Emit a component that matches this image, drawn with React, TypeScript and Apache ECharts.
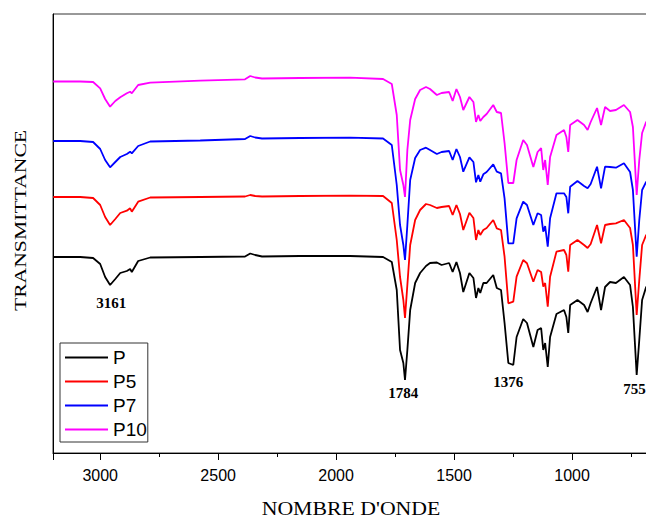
import React, { useEffect, useRef } from "react";
import * as echarts from "echarts";

// Wavenumbers (cm-1) shared by all four spectra
const wavenumbers = [
  3199, 3085, 3030, 3000, 2979, 2958, 2936, 2915, 2887, 2873,
  2866, 2839, 2788, 2576, 2386, 2364, 2343, 2314, 2153, 1941,
  1801, 1764, 1743, 1729, 1715, 1708, 1698, 1686, 1665, 1644,
  1619, 1602, 1573, 1553, 1521, 1506, 1490, 1475, 1461, 1435,
  1418, 1407, 1397, 1389, 1376, 1362, 1334, 1319, 1301, 1286,
  1270, 1249, 1235, 1207, 1191, 1164, 1146, 1131, 1122, 1114,
  1103, 1093, 1066, 1034, 1024, 1016, 1008, 977, 949, 934,
  921, 894, 877, 860, 839, 814, 780, 754, 742, 726,
  715, 703, 686, 606,
];

// Transmittance (arbitrary units, spectra stacked)
const pValues = [
  196, 196, 195, 189, 176, 168, 174, 180, 182, 184,
  181, 192, 195.5, 196, 196.5, 199.5, 198, 196.5, 197, 197,
  196, 191, 163, 103, 90, 73, 103, 143, 170, 180,
  187, 190, 190.5, 188, 190, 181, 191, 180, 161, 180,
  175, 155, 165, 160, 170, 170, 178, 165, 163, 130,
  90, 88, 116, 134, 130, 106, 123, 125, 103, 110,
  86, 116, 139, 143, 136, 120, 148, 153, 148, 141,
  150, 166, 143, 166, 171, 170, 176, 168, 146, 78,
  113, 153, 166, 173,
];
const p5Values = [
  256, 256, 255, 248, 236, 228, 234, 240, 242.3, 244.7,
  241.3, 251.3, 255.5, 256, 256.5, 258, 257, 256.5, 257, 257.3,
  257, 250, 213, 176, 153, 135, 168, 208, 233, 243,
  249, 248, 245, 246, 247, 238, 248, 239, 223, 240.3,
  235, 213, 223, 218, 223, 225, 233, 224.7, 223, 196.3,
  149.7, 151.3, 176.3, 193, 189.7, 171.3, 183, 181, 166.3, 170,
  146.3, 176.3, 201.3, 203, 198, 181.3, 208, 213, 208, 205,
  209, 228, 209.7, 228, 229, 229.7, 233, 225, 208, 138,
  173, 208, 218, 223,
];
const p7Values = [
  312, 312, 311, 304, 293, 285.7, 291, 296, 299, 301.3,
  299.7, 307, 311.5, 312.5, 314, 317, 315.5, 314.5, 315, 315.3,
  314.5, 308, 268, 228, 208, 193, 228, 273, 295, 303,
  305.3, 303, 299, 301, 302, 293, 304, 296, 281.3, 295.7,
  291, 270.7, 278, 271.3, 278.7, 281, 288.7, 281.3, 279.7, 254.7,
  209.7, 209.7, 234.7, 251.3, 248, 228, 239.7, 238, 221.3, 227,
  206.3, 234.7, 259.7, 259.7, 256, 239.7, 266.3, 272, 267, 264.7,
  269, 286.3, 264.7, 286.3, 286, 285.3, 289.7, 281, 263, 196.3,
  233, 263, 271, 278,
];
const p10Values = [
  371.5, 371.5, 371, 364.7, 354, 346.3, 352, 355.7, 359.7, 361.3,
  359.7, 368, 370.3, 372.3, 373.7, 377, 375.5, 374.5, 375, 375.3,
  374, 369, 338, 283, 268, 256, 303, 333, 354, 363,
  366, 364, 358, 360, 361, 352, 364, 356, 343, 356,
  351, 331, 338, 332, 336, 339, 348, 341, 340, 310,
  270, 270, 293, 313, 308, 286, 301, 305, 283, 293,
  268, 296, 318, 323, 316, 301, 328, 333, 328, 323,
  331, 345, 328, 346, 342, 343, 348, 341, 326, 258,
  293, 320, 331, 338,
];

const seriesNames = ["P", "P5", "P7", "P10"];
const seriesColors = ["#000000", "#ff0000", "#0000ff", "#ff00ff"];
const seriesValues = [pValues, p5Values, p7Values, p10Values];

// Peak annotations
const peakLabels = ["3161", "1784", "1376", "755"];
const peakWavenumbers = [2953, 1715, 1270, 735];
const peakLabelValues = [150, 60, 71, 64];

const xTitle = "NOMBRE D'ONDE";
const yTitle = "TRANSMITTANCE";

export default function App() {
  const ref = useRef<HTMLDivElement>(null);

  useEffect(() => {
    if (!ref.current) return;
    const chart = echarts.init(ref.current, null, { renderer: "svg" });

    const series: any[] = seriesNames.map((name, i) => ({
      name,
      type: "line",
      data: wavenumbers.map((w, j) => [w, seriesValues[i][j]]),
      showSymbol: false,
      symbol: "none",
      lineStyle: { color: seriesColors[i], width: 1.8 },
      itemStyle: { color: seriesColors[i] },
      z: 2 + i,
    }));

    series[0].markPoint = {
      symbol: "circle",
      symbolSize: 0,
      silent: true,
      data: peakLabels.map((lab, k) => ({
        name: lab,
        coord: [peakWavenumbers[k], peakLabelValues[k]],
      })),
      label: {
        show: true,
        position: "inside",
        formatter: "{b}",
        fontFamily: "Liberation Serif",
        fontWeight: "bold",
        fontSize: 15,
        color: "#000",
      },
    };

    chart.setOption({
      animation: false,
      backgroundColor: "#ffffff",
      grid: {
        left: 53,
        top: 14,
        width: 637,
        height: 439,
        outerBoundsMode: "none",
        containLabel: false,
        show: true,
        borderColor: "#333",
        borderWidth: 1,
        backgroundColor: "transparent",
      },
      legend: {
        orient: "vertical",
        left: 60,
        top: 343,
        data: seriesNames,
        icon: "rect",
        itemWidth: 43,
        itemHeight: 2,
        itemGap: 5,
        padding: [5, 1, 3, 5],
        borderColor: "#333",
        borderWidth: 1,
        backgroundColor: "#fff",
        textStyle: {
          fontFamily: "Liberation Sans",
          fontSize: 19,
          lineHeight: 19,
          color: "#000",
        },
      },
      graphic: [
        {
          type: "text",
          x: 351,
          y: 509,
          scaleX: 1.21,
          silent: true,
          style: {
            text: xTitle,
            font: '18px "Liberation Serif"',
            fill: "#000",
            textAlign: "center",
            textVerticalAlign: "middle",
          },
        },
        {
          type: "text",
          x: 20.5,
          y: 220.5,
          rotation: Math.PI / 2,
          scaleX: 1.275,
          silent: true,
          style: {
            text: yTitle,
            font: '17px "Liberation Serif"',
            fill: "#000",
            textAlign: "center",
            textVerticalAlign: "middle",
          },
        },
      ],
      xAxis: {
        type: "value",
        min: 500,
        max: 3200,
        interval: 500,
        inverse: true,
        axisLine: { show: true, lineStyle: { color: "#000", width: 1 } },
        axisTick: { show: true, length: 7, lineStyle: { color: "#000" } },
        minorTick: { show: true, splitNumber: 2, length: 4, lineStyle: { color: "#000" } },
        splitLine: { show: false },
        axisLabel: {
          fontFamily: "Liberation Sans",
          fontSize: 16,
          color: "#000",
          margin: 14,
          showMaxLabel: false,
          showMinLabel: false,
          formatter: (v: number) => (v % 500 === 0 ? String(v) : ""),
        },
      },
      yAxis: {
        type: "value",
        min: 0,
        max: 439,
        axisLine: { show: true, lineStyle: { color: "#000", width: 1 } },
        axisTick: { show: false },
        axisLabel: { show: false },
        splitLine: { show: false },
      },
      series,
    });

    return () => chart.dispose();
  }, []);

  return (
    <div
      ref={ref}
      style={{ position: "absolute", left: 0, top: 0, width: 646, height: 518 }}
    />
  );
}
